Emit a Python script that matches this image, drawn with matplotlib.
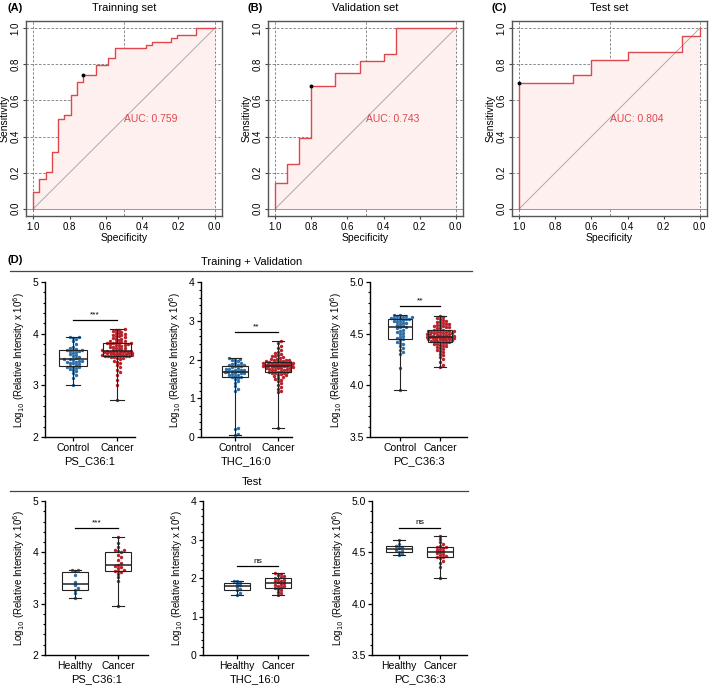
import numpy as np
import matplotlib
matplotlib.use("Agg")
import matplotlib.pyplot as plt
from matplotlib.lines import Line2D
from matplotlib.ticker import MultipleLocator, FormatStrFormatter

plt.rcParams['font.family'] = ['Liberation Sans', 'DejaVu Sans']

# ---- ROC data (specificity / sensitivity corners, steps-post) ----
roc_titles = ['Trainning set', 'Validation set', 'Test set']
roc_tags = ['(A)', '(B)', '(C)']
roc_auc = [0.759, 0.743, 0.804]

spec_A = [1.0, 1.0, 0.966, 0.931, 0.897, 0.862, 0.828, 0.793, 0.759, 0.724,
          0.655, 0.586, 0.552, 0.379, 0.345, 0.241, 0.207, 0.103, 0.0]
sens_A = [0.0, 0.093, 0.167, 0.204, 0.315, 0.500, 0.519, 0.630, 0.704, 0.741,
          0.796, 0.833, 0.889, 0.907, 0.926, 0.944, 0.963, 1.0, 1.0]
spec_B = [1.0, 1.0, 0.933, 0.867, 0.8, 0.667, 0.533, 0.4, 0.333, 0.0]
sens_B = [0.0, 0.143, 0.25, 0.393, 0.679, 0.75, 0.821, 0.857, 1.0, 1.0]
spec_C = [1.0, 1.0, 0.7, 0.6, 0.4, 0.1, 0.0]
sens_C = [0.0, 0.696, 0.739, 0.826, 0.870, 0.957, 1.0]
best_pts = [(0.724, 0.741), (0.8, 0.679), (1.0, 0.696)]

# ---- lipid data ----
names = ['PS_C36:1', 'THC_16:0', 'PC_C36:3']

tv_control = {
    'PS_C36:1': [3.01, 3.15, 3.20, 3.24, 3.27, 3.30, 3.32, 3.33, 3.35, 3.36, 3.36,
                 3.38, 3.40, 3.41, 3.43, 3.44, 3.45, 3.46, 3.47, 3.48, 3.49, 3.50,
                 3.50, 3.52, 3.54, 3.56, 3.58, 3.60, 3.62, 3.64, 3.66, 3.67, 3.68,
                 3.68, 3.69, 3.70, 3.72, 3.75, 3.80, 3.86, 3.90, 3.92, 3.93, 3.94],
    'THC_16:0': [0.05, 0.07, 0.20, 0.22, 1.20, 1.25, 1.32, 1.40, 1.45, 1.50, 1.53,
                 1.54, 1.56, 1.58, 1.60, 1.61, 1.62, 1.64, 1.65, 1.66, 1.67, 1.68,
                 1.70, 1.71, 1.72, 1.73, 1.74, 1.75, 1.76, 1.78, 1.80, 1.82, 1.84,
                 1.85, 1.86, 1.87, 1.88, 1.90, 1.92, 1.95, 1.98, 2.00, 2.02, 2.04],
    'PC_C36:3': [3.95, 4.17, 4.30, 4.32, 4.34, 4.36, 4.38, 4.40, 4.41, 4.42, 4.44,
                 4.45, 4.46, 4.47, 4.48, 4.50, 4.51, 4.52, 4.53, 4.54, 4.55, 4.56,
                 4.56, 4.57, 4.58, 4.59, 4.60, 4.60, 4.61, 4.62, 4.62, 4.63, 4.64,
                 4.64, 4.64, 4.65, 4.65, 4.65, 4.66, 4.66, 4.67, 4.67, 4.68, 4.68],
}
tv_cancer = {
    'PS_C36:1': [2.72, 3.00, 3.10, 3.20, 3.25, 3.30, 3.35, 3.40, 3.43, 3.46, 3.48,
                 3.50, 3.52, 3.53, 3.54, 3.55, 3.56, 3.56, 3.57, 3.57, 3.57,
                 3.58, 3.58, 3.59, 3.59, 3.60, 3.60, 3.61, 3.61, 3.62, 3.62,
                 3.63, 3.63, 3.64, 3.64, 3.64, 3.65, 3.65, 3.65, 3.66, 3.66,
                 3.66, 3.67, 3.68, 3.69, 3.70, 3.71, 3.72, 3.73, 3.74, 3.75,
                 3.76, 3.77, 3.78, 3.79, 3.80, 3.80, 3.81, 3.81, 3.82, 3.82,
                 3.83, 3.84, 3.85, 3.86, 3.88, 3.89, 3.90, 3.92, 3.93, 3.95, 3.96,
                 3.97, 3.98, 4.00, 4.01, 4.02, 4.04, 4.05, 4.07, 4.08, 4.09],
    'THC_16:0': [0.22, 1.15, 1.20, 1.25, 1.30, 1.35, 1.40, 1.44, 1.48, 1.50, 1.53,
                 1.55, 1.57, 1.59, 1.61, 1.62, 1.64, 1.65, 1.66, 1.67, 1.68,
                 1.69, 1.70, 1.71, 1.72, 1.73, 1.74, 1.75, 1.76, 1.77, 1.77,
                 1.78, 1.79, 1.80, 1.80, 1.81, 1.82, 1.82, 1.83, 1.83, 1.84,
                 1.84, 1.85, 1.85, 1.86, 1.86, 1.87, 1.87, 1.88, 1.88, 1.89,
                 1.89, 1.90, 1.90, 1.91, 1.91, 1.92, 1.92, 1.93, 1.93, 1.94,
                 1.95, 1.96, 1.97, 1.98, 1.99, 2.00, 2.01, 2.02, 2.04, 2.06, 2.08,
                 2.10, 2.12, 2.15, 2.18, 2.20, 2.25, 2.30, 2.36, 2.42, 2.48],
    'PC_C36:3': [4.18, 4.20, 4.23, 4.25, 4.27, 4.29, 4.30, 4.32, 4.33, 4.34, 4.35,
                 4.36, 4.37, 4.38, 4.38, 4.39, 4.40, 4.40, 4.41, 4.41, 4.42,
                 4.42, 4.43, 4.43, 4.43, 4.44, 4.44, 4.44, 4.45, 4.45, 4.45,
                 4.45, 4.46, 4.46, 4.46, 4.46, 4.47, 4.47, 4.47, 4.47, 4.47,
                 4.47, 4.48, 4.48, 4.48, 4.49, 4.49, 4.49, 4.50, 4.50, 4.50,
                 4.51, 4.51, 4.51, 4.52, 4.52, 4.52, 4.52, 4.53, 4.53, 4.53,
                 4.54, 4.54, 4.55, 4.55, 4.56, 4.56, 4.57, 4.57, 4.58, 4.58, 4.59,
                 4.59, 4.60, 4.61, 4.61, 4.62, 4.63, 4.64, 4.65, 4.66, 4.67],
}
test_healthy = {
    'PS_C36:1': [3.12, 3.20, 3.26, 3.30, 3.36, 3.42, 3.55, 3.64, 3.65, 3.66],
    'THC_16:0': [1.56, 1.62, 1.68, 1.72, 1.77, 1.81, 1.85, 1.89, 1.91, 1.93],
    'PC_C36:3': [4.47, 4.48, 4.50, 4.51, 4.52, 4.54, 4.55, 4.56, 4.58, 4.62],
}
test_cancer = {
    'PS_C36:1': [2.95, 3.45, 3.52, 3.58, 3.62, 3.63, 3.64, 3.66, 3.70, 3.72, 3.74,
                 3.76, 3.80, 3.85, 3.90, 3.95, 4.00, 4.03, 4.04, 4.05, 4.10, 4.18, 4.30],
    'THC_16:0': [1.56, 1.60, 1.64, 1.68, 1.72, 1.74, 1.76, 1.78, 1.80, 1.83, 1.85,
                 1.87, 1.89, 1.91, 1.93, 1.96, 1.98, 2.00, 2.02, 2.05, 2.08, 2.10, 2.13],
    'PC_C36:3': [4.25, 4.36, 4.40, 4.42, 4.44, 4.45, 4.45, 4.46, 4.47, 4.48, 4.49,
                 4.50, 4.51, 4.52, 4.53, 4.54, 4.55, 4.55, 4.56, 4.58, 4.60, 4.63, 4.66],
}
tv_sig = ['***', '**', '**']
test_sig = ['***', 'ns', 'ns']
tv_sig_y = [4.26, 2.70, 4.77]
test_sig_y = [4.48, 2.30, 4.74]
ylims = [(2, 5), (0, 4), (3.5, 5.0)]
majors = [1, 1, 0.5]
minors = [0.2, 0.2, 0.1]

blue = '#2E6FA7'
red = '#B8232B'
roc_red = '#E0474C'

W, H = 709, 686
fig = plt.figure(figsize=(W / 100, H / 100), dpi=100)


def add_ax(left, right, top, bottom):
    return fig.add_axes([left / W, 1 - bottom / H, (right - left) / W, (bottom - top) / H])


# ROC panels
roc_frames = [(26, 222), (268, 463), (512, 707)]
roc_data = [(spec_A, sens_A), (spec_B, sens_B), (spec_C, sens_C)]
for i in range(3):
    l, r = roc_frames[i]
    ax = add_ax(l, r, 21, 216)
    spec, sens = roc_data[i]
    ax.set_xlim(1.04, -0.04)
    ax.set_ylim(-0.04, 1.04)
    for v in [0, 0.2, 0.4, 0.6, 0.8, 1.0]:
        ax.axhline(v, color='#777777', lw=0.6, ls=(0, (3, 2)), zorder=0)
    for v in [1.0, 0.5, 0.0]:
        ax.axvline(v, color='#777777', lw=0.6, ls=(0, (3, 2)), zorder=0)
    ax.fill_between(spec, sens, 0, step='post', color='#FFF0F0', lw=0, zorder=1)
    ax.axhline(0, color='#999999', lw=0.7, zorder=1.5)
    ax.plot([1, 0], [0, 1], color='#aaaaaa', lw=0.7, zorder=2)
    ax.plot(spec, sens, drawstyle='steps-post', color=roc_red, lw=1.0, zorder=3)
    ax.plot(best_pts[i][0], best_pts[i][1], 'o', color='black', ms=1.8, zorder=4)
    ax.text(0.5, 0.5, 'AUC: %.3f' % roc_auc[i], color=roc_red, fontsize=7.5,
            ha='left', va='center', zorder=5)
    ax.set_xticks([1.0, 0.8, 0.6, 0.4, 0.2, 0.0])
    ax.set_yticks([0.0, 0.2, 0.4, 0.6, 0.8, 1.0])
    ax.xaxis.set_major_formatter(FormatStrFormatter('%.1f'))
    ax.yaxis.set_major_formatter(FormatStrFormatter('%.1f'))
    ax.tick_params(labelsize=7, length=2.5, width=0.8, color='#444444', pad=1.5)
    for lab in ax.get_yticklabels():
        lab.set_rotation(90)
        lab.set_va('center')
    for s in ax.spines.values():
        s.set_color('#555555')
        s.set_linewidth(1.0)
    ax.set_xlabel('Specificity', fontsize=7.5, labelpad=1)
    ax.set_ylabel('Sensitivity', fontsize=7.5, labelpad=0.5)
    fig.text((l + r) / 2 / W, 1 - 8 / H, roc_titles[i], ha='center', va='center', fontsize=8)
    fig.text((l - 21) / W if i > 0 else 7 / W, 1 - 8 / H, roc_tags[i], ha='left',
             va='center', fontsize=8, fontweight='bold')


def swarm(vals, ppx, ppy, d, maxw):
    # simple deterministic beeswarm, offsets limited to +/- maxw pixels
    vals = np.asarray(vals, dtype=float)
    order = np.argsort(vals)
    placed = []
    offs = np.zeros(len(vals))
    cands = [0.0]
    k = 1
    while k * d * 0.5 <= maxw:
        cands += [k * d * 0.5, -k * d * 0.5]
        k += 1
    for i in order:
        y = vals[i] * ppy
        best_c, best_d = 0.0, -1
        for c in cands:
            md = min([np.hypot(c - px, y - py) for px, py in placed] + [99])
            if md >= d:
                best_c = c
                break
            if md > best_d:
                best_c, best_d = c, md
        placed.append((best_c, y))
        offs[i] = best_c
    return offs / ppx


def box_panel(yaxis_x, right_x, top, bottom, centers, g1, g2, k, labels, sig, sig_y):
    ax = add_ax(yaxis_x, right_x, top, bottom)
    unit = centers[1] - centers[0]
    x0 = 1 - (centers[0] - yaxis_x) / unit
    x1 = 2 + (right_x - centers[1]) / unit
    ax.set_xlim(x0, x1)
    ax.set_ylim(*ylims[k])
    ppx = unit
    ppy = (bottom - top) / (ylims[k][1] - ylims[k][0])
    for pos, vals, col in [(1, g1, blue), (2, g2, red)]:
        off = swarm(vals, ppx, ppy, 3.0, 0.36 * unit)
        ax.scatter(pos + off, vals, s=6, color=col, lw=0, zorder=2, clip_on=False)
    ax.boxplot([g1, g2], positions=[1, 2], widths=0.62, whis=(0, 100), showfliers=False,
               patch_artist=True, capwidths=0.3,
               boxprops=dict(facecolor='none', edgecolor='#222222', lw=0.8),
               medianprops=dict(color='#222222', lw=1.1),
               whiskerprops=dict(color='#222222', lw=0.8),
               capprops=dict(color='#222222', lw=0.8), zorder=3)
    ax.plot([1, 2], [sig_y, sig_y], color='black', lw=0.9)
    ax.text(1.5, sig_y + (ylims[k][1] - ylims[k][0]) * 0.01, sig, ha='center', va='bottom',
            fontsize=6)
    ax.set_xticks([1, 2])
    ax.set_xticklabels(labels)
    ax.yaxis.set_major_locator(MultipleLocator(majors[k]))
    ax.yaxis.set_minor_locator(MultipleLocator(minors[k]))
    if k == 2:
        ax.yaxis.set_major_formatter(FormatStrFormatter('%.1f'))
    ax.tick_params(axis='both', which='major', labelsize=7.5, length=3, width=0.9, pad=1.5)
    ax.tick_params(axis='y', which='minor', length=1.8, width=0.8)
    ax.spines['top'].set_visible(False)
    ax.spines['right'].set_visible(False)
    ax.spines['left'].set_linewidth(1.0)
    ax.spines['bottom'].set_linewidth(1.0)
    ax.set_xlabel(names[k], fontsize=8, labelpad=2)
    ax.set_ylabel('Log$_{10}$ (Relative Intensity x 10$^{6}$)', fontsize=7, labelpad=4)


tv_layout = [(45, 135, (73, 117)), (201, 292, (235, 278)), (370, 467, (400, 440))]
test_layout = [(45, 148, (75, 118)), (203, 308, (237, 278)), (372, 467, (399, 440))]

for k, nm in enumerate(names):
    ya, rx, cs = tv_layout[k]
    box_panel(ya, rx, 282, 437, cs, tv_control[nm], tv_cancer[nm], k,
              ['Control', 'Cancer'], tv_sig[k], tv_sig_y[k])
    ya, rx, cs = test_layout[k]
    box_panel(ya, rx, 501, 655, cs, test_healthy[nm], test_cancer[nm], k,
              ['Healthy', 'Cancer'], test_sig[k], test_sig_y[k])

# section headers
fig.text(7 / W, 1 - 260 / H, '(D)', ha='left', va='center', fontsize=8, fontweight='bold')
fig.text(252 / W, 1 - 262 / H, 'Training + Validation', ha='center', va='center', fontsize=8)
fig.add_artist(Line2D([10 / W, 472 / W], [1 - 271 / H] * 2, color='#444444', lw=0.9))
fig.text(252 / W, 1 - 482 / H, 'Test', ha='center', va='center', fontsize=8)
fig.add_artist(Line2D([10 / W, 468 / W], [1 - 491 / H] * 2, color='#444444', lw=0.9))

fig.savefig('out.png', dpi=100)
